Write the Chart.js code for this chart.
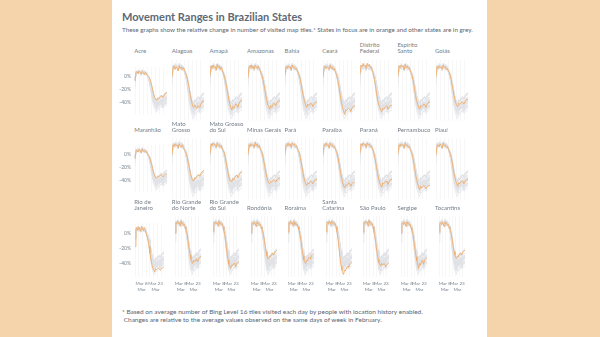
<!DOCTYPE html>
<html>
<head>
<meta charset="utf-8">
<script src="https://cdn.jsdelivr.net/npm/chart.js@4/dist/chart.umd.min.js"></script>
<style>
  html, body { margin: 0; padding: 0; }
  body { width: 600px; height: 337px; background: #f6d4ab; position: relative; overflow: hidden;
         font-family: Lato, "Open Sans", sans-serif; }
  #sheet { position: absolute; left: 112px; top: 0; width: 375px; height: 337px; background: #ffffff; }
  .title { position: absolute; left: 122px; top: 10px; font-weight: 700; font-size: 11px; color: #5d6975; white-space: nowrap; }
  .sub { position: absolute; left: 122px; top: 25.5px; font-size: 6.3px; color: #5b6670; white-space: nowrap; }
  .lab { position: absolute; font-size: 6px; line-height: 5.8px; color: #737e88; white-space: pre; }
  .note { position: absolute; left: 122px; font-size: 6.5px; color: #5b6670; white-space: nowrap; }
  canvas { position: absolute; }
</style>
</head>
<body>
<div id="sheet"></div>
<div class="title">Movement Ranges in Brazilian States</div>
<div class="sub">These graphs show the relative change in number of visited map tiles.* States in focus are in orange and other states are in grey.</div>
<div class="note" style="top:308px">* Based on average number of Bing Level 16 tiles visited each day by people with location history enabled.</div>
<div class="note" style="top:316px">&nbsp;Changes are relative to the average values observed on the same days of week in February.</div>
<div id="panels"></div>
<script>
// Days covered by each panel (1 March to 1 April)
const dates = ['Mar 1','Mar 2','Mar 3','Mar 4','Mar 5','Mar 6','Mar 7','Mar 8','Mar 9','Mar 10',
  'Mar 11','Mar 12','Mar 13','Mar 14','Mar 15','Mar 16','Mar 17','Mar 18','Mar 19','Mar 20',
  'Mar 21','Mar 22','Mar 23','Mar 24','Mar 25','Mar 26','Mar 27','Mar 28','Mar 29','Mar 30',
  'Mar 31','Apr 1'];

// Labels shown under the bottom row (index into dates -> two-line label)
const xTickIndex = [7, 22];
const xTickText = [['Mar 8', 'Mar'], ['Mar 23', 'Mar']];
const yTicks = [-40, -20, 0];

// State names and how their titles wrap
const states = ['Acre','Alagoas','Amapá','Amazonas','Bahia','Ceará','Distrito Federal','Espírito Santo','Goiás',
  'Maranhão','Mato Grosso','Mato Grosso do Sul','Minas Gerais','Pará','Paraíba','Paraná','Pernambuco','Piauí',
  'Rio de Janeiro','Rio Grande do Norte','Rio Grande do Sul','Rondônia','Roraima','Santa Catarina','São Paulo','Sergipe','Tocantins'];
const stateTitles = ['Acre','Alagoas','Amapá','Amazonas','Bahia','Ceará','Distrito\nFederal','Espírito\nSanto','Goiás',
  'Maranhão','Mato\nGrosso','Mato Grosso\ndo Sul','Minas Gerais','Pará','Paraíba','Paraná','Pernambuco','Piauí',
  'Rio de\nJaneiro','Rio Grande\ndo Norte','Rio Grande\ndo Sul','Rondônia','Roraima','Santa\nCatarina','São Paulo','Sergipe','Tocantins'];

// Relative change in visited tiles, % (one value per day)
const acre       = [-8, 6, 7, 4, 8, 6, 3, 7, 5, 2, 6, 4, 1, 0, -2, -7, -13, -20, -27, -33, -35, -37, -34, -35, -33, -31, -30, -33, -31, -27, -26, -25];
const alagoas    = [-6, 5, 7, 3, 6, 4, 1, 7, 4, 6, 2, 5, 3, -1, -4, -9, -15, -22, -29, -35, -40, -42, -39, -41, -43, -40, -41, -42, -38, -36, -34, -35];
const amapa      = [-5, 7, 4, 8, 5, 6, 2, 9, 5, 7, 3, 6, 2, -2, -6, -11, -17, -24, -31, -37, -42, -45, -41, -43, -40, -38, -39, -42, -38, -35, -34, -33];
const amazonas   = [-7, 6, 5, 8, 4, 7, 3, 8, 6, 4, 7, 3, 1, -3, -6, -12, -19, -26, -33, -38, -41, -44, -40, -42, -39, -37, -38, -40, -36, -35, -34, -33];
const bahia      = [-4, 6, 4, 7, 5, 6, 2, 8, 5, 6, 3, 4, 1, -2, -5, -10, -17, -24, -30, -35, -39, -42, -38, -40, -39, -37, -38, -41, -39, -37, -36, -37];
const ceara      = [-6, 5, 7, 4, 6, 5, 3, 8, 4, 6, 2, 4, 0, -3, -8, -14, -22, -30, -37, -42, -47, -50, -45, -46, -44, -43, -44, -47, -43, -41, -40, -40];
const distrito   = [-3, 8, 6, 10, 7, 8, 4, 10, 7, 9, 5, 6, 2, -3, -9, -16, -25, -33, -38, -42, -45, -47, -43, -44, -42, -41, -40, -44, -42, -40, -39, -40];
const espirito   = [-5, 7, 5, 8, 6, 7, 2, 9, 5, 7, 4, 5, 1, -2, -6, -12, -20, -28, -34, -38, -42, -44, -40, -41, -40, -38, -39, -42, -39, -37, -36, -36];
const goias      = [-6, 6, 4, 7, 5, 6, 3, 8, 5, 6, 3, 4, 1, -1, -5, -11, -18, -25, -31, -36, -39, -41, -37, -38, -37, -35, -36, -38, -35, -34, -32, -33];
const maranhao   = [-7, 5, 6, 3, 7, 5, 2, 8, 4, 6, 3, 4, 1, -2, -4, -9, -15, -22, -28, -33, -36, -37, -34, -35, -33, -32, -33, -35, -33, -31, -30, -31];
const matoGrosso = [-6, 6, 4, 7, 5, 6, 2, 7, 5, 3, 6, 3, 0, -2, -5, -10, -16, -23, -29, -33, -36, -37, -33, -34, -31, -30, -29, -31, -28, -26, -25, -24];
const matoGrossoSul = [-5, 7, 5, 8, 6, 6, 3, 8, 5, 6, 3, 5, 1, -1, -4, -10, -17, -24, -30, -35, -37, -38, -34, -36, -33, -31, -30, -33, -30, -28, -27, -26];
const minas      = [-6, 6, 4, 7, 5, 6, 3, 9, 5, 7, 3, 5, 1, -2, -5, -11, -18, -25, -31, -36, -39, -40, -37, -38, -36, -35, -36, -38, -35, -34, -33, -33];
const para       = [-5, 6, 5, 8, 5, 7, 3, 8, 6, 7, 4, 5, 2, -1, -4, -10, -17, -24, -31, -36, -40, -42, -39, -40, -38, -37, -38, -40, -37, -36, -35, -35];
const paraiba    = [-6, 6, 5, 8, 5, 6, 2, 8, 5, 6, 3, 4, 1, -2, -6, -12, -19, -27, -33, -38, -43, -45, -41, -42, -41, -39, -40, -43, -40, -39, -38, -38];
const parana     = [-4, 7, 5, 8, 6, 7, 3, 8, 6, 7, 4, 5, 2, -2, -7, -13, -21, -28, -34, -38, -42, -44, -39, -40, -38, -37, -37, -41, -38, -36, -35, -35];
const pernambuco = [-5, 6, 4, 7, 5, 6, 2, 8, 5, 6, 3, 4, 0, -3, -7, -13, -21, -29, -35, -40, -44, -47, -43, -45, -44, -42, -43, -46, -44, -43, -42, -42];
const piaui      = [-6, 5, 6, 4, 7, 5, 2, 8, 5, 6, 3, 4, 1, -2, -5, -10, -17, -25, -31, -36, -40, -43, -39, -40, -38, -37, -37, -40, -37, -36, -35, -35];
const rioJaneiro = [-17, 5, 8, 4, 9, 6, 3, 10, 6, 4, 8, 5, 0, -4, -9, -17, -26, -34, -41, -46, -49, -51, -47, -48, -47, -46, -47, -49, -48, -46, -45, -45];
const rioNorte   = [-6, 6, 5, 8, 5, 6, 3, 8, 5, 6, 3, 4, 1, -2, -5, -11, -18, -26, -32, -37, -40, -42, -38, -40, -39, -37, -37, -40, -37, -35, -34, -34];
const rioSul     = [-4, 6, 5, 7, 5, 6, 3, 8, 5, 6, 4, 5, 1, -3, -8, -15, -24, -32, -38, -43, -46, -48, -44, -45, -43, -42, -42, -46, -43, -41, -40, -40];
const rondonia   = [-6, 5, 6, 4, 7, 5, 2, 7, 5, 6, 3, 4, 1, -1, -4, -9, -15, -22, -28, -33, -36, -37, -33, -34, -32, -30, -30, -32, -30, -28, -27, -26];
const roraima    = [-5, 6, 5, 8, 5, 6, 3, 8, 4, 6, 3, 4, 1, -2, -6, -12, -19, -27, -33, -38, -40, -42, -38, -39, -36, -35, -34, -37, -33, -32, -31, -30];
const santaCatarina = [-4, 6, 7, 5, 8, 6, 4, 8, 6, 7, 4, 5, 1, -4, -10, -19, -29, -38, -45, -50, -53, -55, -50, -51, -48, -46, -45, -47, -44, -42, -41, -40];
const saoPaulo   = [-5, 6, 5, 8, 6, 7, 3, 9, 6, 7, 4, 5, 1, -4, -9, -16, -24, -31, -37, -41, -43, -45, -42, -44, -43, -42, -43, -46, -44, -43, -42, -43];
const sergipe    = [-6, 5, 6, 4, 7, 5, 2, 7, 5, 6, 3, 4, 0, -3, -6, -12, -20, -28, -34, -39, -44, -48, -42, -44, -41, -38, -39, -43, -39, -37, -36, -35];
const tocantins  = [-5, 5, 6, 4, 7, 5, 2, 7, 5, 6, 3, 4, 1, -1, -4, -9, -15, -22, -28, -32, -35, -36, -33, -34, -31, -30, -30, -32, -29, -28, -27, -27];

const series = [acre, alagoas, amapa, amazonas, bahia, ceara, distrito, espirito, goias,
  maranhao, matoGrosso, matoGrossoSul, minas, para, paraiba, parana, pernambuco, piaui,
  rioJaneiro, rioNorte, rioSul, rondonia, roraima, santaCatarina, saoPaulo, sergipe, tocantins];

// Grid geometry of the small multiples
const COLS = 9;
const PLOT_X0 = 134.7, COL_STEP = 37.6, PLOT_W = 32.4;
const PLOT_Y0 = 59.6, ROW_STEP = 78.3, PLOT_H = 61.2;
const Y_MIN = -58, Y_MAX = 14;
const YAXIS_W = 22, XAXIS_H = 20;
const ORANGE = '#efae6c', GREY = '#e1e3e6', TEXT = '#7a858f';

const panels = document.getElementById('panels');

states.forEach((name, i) => {
  const r = Math.floor(i / COLS), c = i % COLS;
  const plotLeft = PLOT_X0 + COL_STEP * c;
  const plotTop = PLOT_Y0 + ROW_STEP * r;
  const firstCol = c === 0, lastRow = r === 2;

  // state title above its panel
  const lab = document.createElement('div');
  lab.className = 'lab';
  lab.textContent = stateTitles[i];
  lab.style.left = (plotLeft - 0.5) + 'px';
  lab.style.bottom = (337 - (54 + ROW_STEP * r)) + 'px';
  panels.appendChild(lab);

  const w = Math.round(PLOT_W + (firstCol ? YAXIS_W : 0));
  const h = Math.round(PLOT_H + (lastRow ? XAXIS_H : 0));
  const cv = document.createElement('canvas');
  cv.width = w; cv.height = h;
  cv.style.width = w + 'px'; cv.style.height = h + 'px';
  cv.style.left = (plotLeft - (firstCol ? YAXIS_W : 0)) + 'px';
  cv.style.top = plotTop + 'px';
  panels.appendChild(cv);

  // the focus state goes on top (lowest order is drawn last)
  const datasets = [{ data: series[i], borderColor: ORANGE, borderWidth: 0.9, pointRadius: 0, tension: 0, order: 0 }];
  series.forEach((vals, j) => {
    if (j === i) return;
    datasets.push({ data: vals, borderColor: GREY, borderWidth: 0.7, pointRadius: 0, tension: 0, order: 1 });
  });

  new Chart(cv, {
    type: 'line',
    data: { labels: dates, datasets },
    options: {
      responsive: false,
      animation: false,
      events: [],
      layout: { padding: 0 },
      plugins: { legend: { display: false }, tooltip: { enabled: false } },
      scales: {
        x: {
          display: true,
          border: { display: false },
          grid: {
            drawTicks: false,
            lineWidth: 0.6,
            color: (ctx) => (ctx.index % 4 === 0 ? '#f1f2f4' : 'rgba(0,0,0,0)')
          },
          ticks: {
            display: lastRow,
            autoSkip: false,
            maxRotation: 0,
            minRotation: 0,
            padding: 3,
            color: TEXT,
            font: { family: 'Lato', size: 4.6, lineHeight: 1.35 },
            callback: (v, idx) => {
              const k = xTickIndex.indexOf(idx);
              return k >= 0 ? xTickText[k] : '';
            }
          },
          afterFit: (s) => { s.height = lastRow ? XAXIS_H : 0; }
        },
        y: {
          display: firstCol,
          min: Y_MIN,
          max: Y_MAX,
          border: { display: false },
          grid: { display: false, drawTicks: false },
          afterBuildTicks: (s) => { s.ticks = yTicks.map(v => ({ value: v })); },
          ticks: {
            padding: 4,
            color: TEXT,
            font: { family: 'Lato', size: 5 },
            callback: (v) => v + '%'
          },
          afterFit: (s) => { s.width = firstCol ? YAXIS_W : 0; }
        }
      }
    }
  });
});
</script>
</body>
</html>
